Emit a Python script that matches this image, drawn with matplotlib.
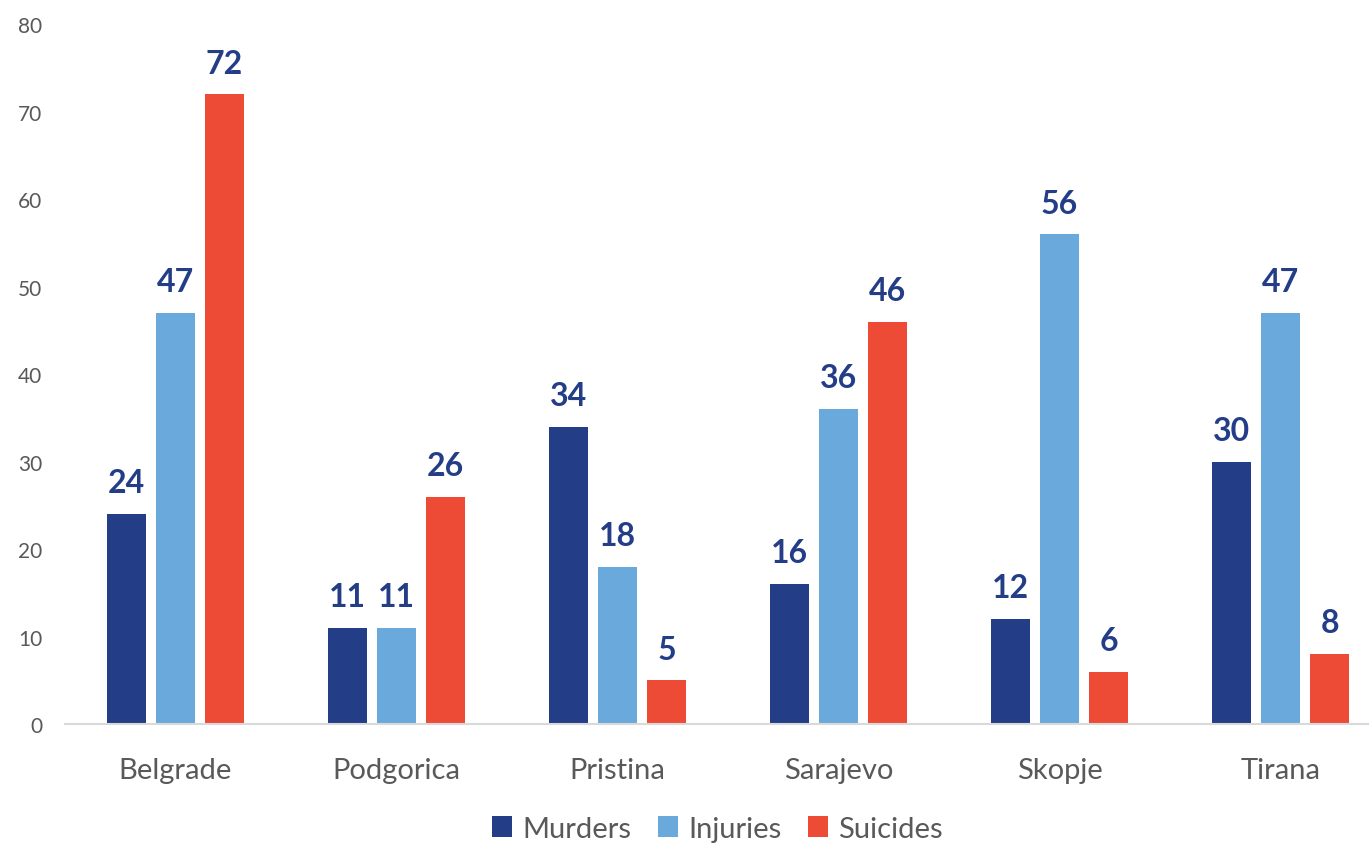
import matplotlib.pyplot as plt
import numpy as np

cities = ["Belgrade", "Podgorica", "Pristina", "Sarajevo", "Skopje", "Tirana"]
murders = [24, 11, 34, 16, 12, 30]
injuries = [47, 11, 18, 36, 56, 47]
suicides = [72, 26, 5, 46, 6, 8]

series = [("Murders", murders, "#233D87"),
          ("Injuries", injuries, "#6AA9DC"),
          ("Suicides", suicides, "#EE4B37")]

plt.rcParams['font.family'] = ['Lato', 'DejaVu Sans']

fig = plt.figure(figsize=(13.69, 8.45), dpi=100)
# plot area runs slightly past the right edge, as in the original
ax = fig.add_axes([0.0472, 0.142, 0.969, 0.828])

x = np.arange(len(cities))
bar_width = 0.176
step = 0.222

for i, (name, values, color) in enumerate(series):
    pos = x + (i - 1) * step
    bars = ax.bar(pos, values, width=bar_width, color=color, label=name, zorder=2)
    for b, v in zip(bars, values):
        ax.annotate(str(v), (b.get_x() + b.get_width() / 2, v),
                    xytext=(0, 12), textcoords="offset points",
                    ha="center", va="bottom", fontsize=23, fontweight="bold",
                    color="#233D87")

ax.set_xlim(-0.5, len(cities) - 0.5)
ax.set_ylim(0, 80)
ax.set_yticks(range(0, 81, 10))
ax.set_xticks(x)
ax.set_xticklabels(cities, fontsize=21, color="#595959")
ax.tick_params(axis="y", labelsize=15, labelcolor="#595959", length=0, pad=16)
ax.tick_params(axis="x", length=0, pad=24)

for side in ["top", "right", "left"]:
    ax.spines[side].set_visible(False)
ax.spines["bottom"].set_color("#D9D9D9")
ax.spines["bottom"].set_linewidth(1.5)

leg = fig.legend(loc="center", bbox_to_anchor=(0.524, 0.018), ncol=3,
                 frameon=False, fontsize=21, handlelength=0.7, handleheight=0.7,
                 handletextpad=0.35, columnspacing=0.9)
for t in leg.get_texts():
    t.set_color("#595959")

fig.savefig("out.png", dpi=100)
